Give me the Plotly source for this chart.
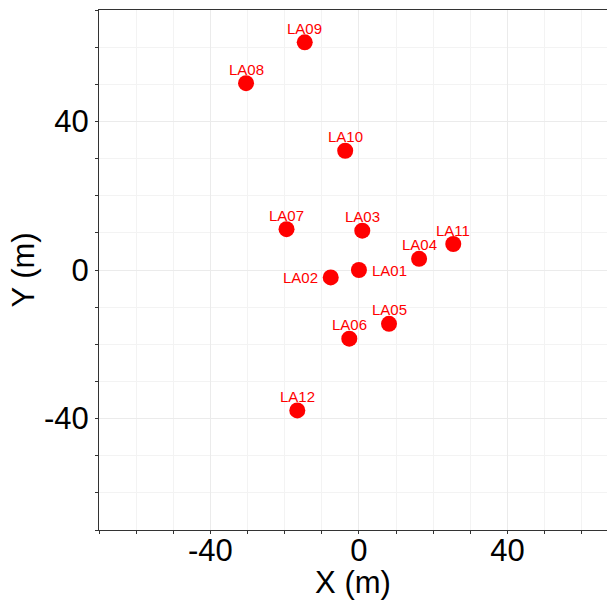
import plotly.graph_objects as go

names = ["LA01", "LA02", "LA03", "LA04", "LA05", "LA06", "LA07", "LA08", "LA09", "LA10", "LA11", "LA12"]
x_m = [0.0, -7.6, 0.9, 16.2, 8.1, -2.6, -19.5, -30.4, -14.6, -3.7, 25.4, -16.6]
y_m = [0.0, -2.0, 10.6, 3.0, -14.5, -18.5, 11.0, 50.3, 61.3, 32.1, 7.0, -37.8]
label_side = ["right", "left"] + ["top"] * 10

tick_vals = [-40, 0, 40]
tick_text = ["-40", "0", "40"]

FONT = "Liberation Sans, Arial, Helvetica, sans-serif"

fig = go.Figure()
fig.add_trace(go.Scatter(
    x=x_m, y=y_m, mode="markers",
    marker=dict(color="#FF0000", size=16, line=dict(width=0)),
    cliponaxis=False, showlegend=False,
))

for n, xv, yv, side in zip(names, x_m, y_m, label_side):
    if side == "top":
        kw = dict(xanchor="center", yanchor="middle", xshift=0, yshift=14)
    elif side == "right":
        kw = dict(xanchor="left", yanchor="middle", xshift=11, yshift=0)
    else:
        kw = dict(xanchor="right", yanchor="middle", xshift=-11, yshift=0)
    fig.add_annotation(x=xv, y=yv, text=n, showarrow=False,
                       font=dict(color="#FF0000", size=15, family=FONT), **kw)

axis_common = dict(
    automargin=False,
    showgrid=True, gridcolor="#EBEBEB", gridwidth=1,
    zeroline=False, showline=True, linecolor="#333333", linewidth=1,
    ticks="outside", ticklen=3, tickcolor="#333333", tickwidth=1,
    tickmode="array", tickvals=tick_vals, ticktext=tick_text,
    tickfont=dict(size=31, color="#000000", family=FONT),
    minor=dict(tickmode="linear", dtick=10, tick0=0, showgrid=True, gridcolor="#F3F3F3", gridwidth=1,
               ticks="outside", ticklen=3, tickcolor="#333333"),
)

fig.update_layout(
    width=607, height=600,
    margin=dict(l=99, r=0, t=10, b=70),
    paper_bgcolor="white", plot_bgcolor="white",
    xaxis=dict(range=[-70, 66.8], mirror=True, ticklabelstandoff=-10,
               title=dict(text="X (m)", font=dict(size=31, color="#000000", family=FONT), standoff=0),
               **axis_common),
    yaxis=dict(range=[-70, 70], mirror=False,
               title=dict(text="Y (m)", font=dict(size=31, color="#000000", family=FONT), standoff=0),
               **axis_common),
)

fig.write_html(
    "out.html",
    config={"displayModeBar": False},
    post_script="document.body.style.margin='0px';document.body.style.overflow='hidden';",
)
